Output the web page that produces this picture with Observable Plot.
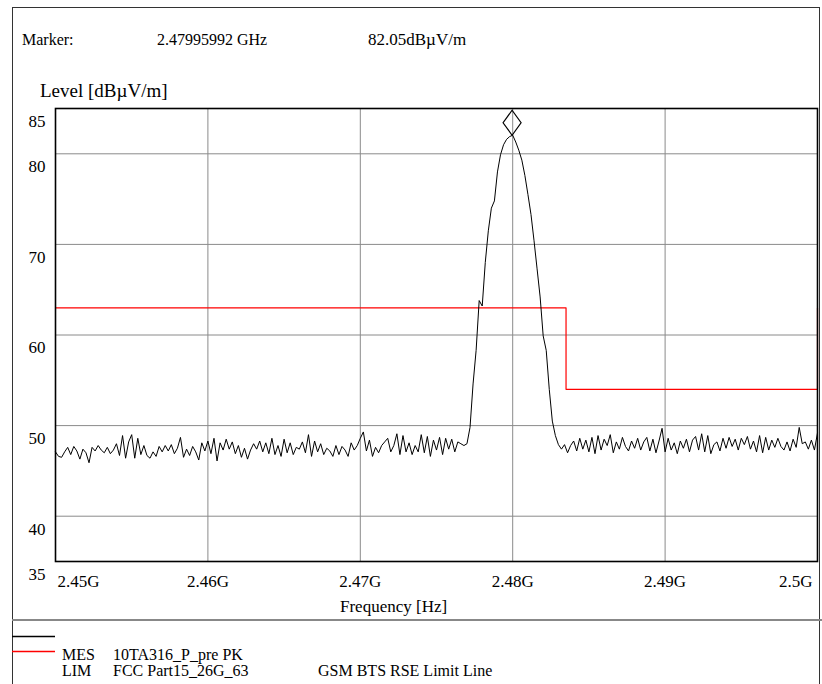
<!DOCTYPE html>
<html>
<head>
<meta charset="utf-8">
<script src="https://cdn.jsdelivr.net/npm/d3@7"></script>
<script src="https://cdn.jsdelivr.net/npm/@observablehq/plot@0.6"></script>
<style>
  html, body { margin: 0; padding: 0; background: #fff; }
  #wrap { position: relative; width: 822px; height: 684px; overflow: hidden; font-family: "Liberation Serif", serif; color: #000; }
  #wrap svg.plot { position: absolute; left: 0; top: 0; }
  .t { position: absolute; white-space: nowrap; line-height: 1; }
  #border { position: absolute; left: 12px; top: 7px; width: 808px; height: 690px; border: 1.5px solid #333; box-sizing: border-box; }
  #sep { position: absolute; left: 12px; top: 619px; width: 810px; height: 2px; background: #888; }
  #legsvg { position: absolute; left: 0; top: 628px; }
</style>
</head>
<body>
<div id="wrap">
  <div id="border"></div>
  <div id="chart"></div>
  <div class="t" style="left:22px; top:32px; font-size:16px;">Marker:</div>
  <div class="t" style="left:157px; top:32px; font-size:16px;">2.47995992 GHz</div>
  <div class="t" style="left:368px; top:31px; font-size:17px;">82.05dBµV/m</div>
  <div class="t" style="left:40px; top:81px; font-size:19px;">Level [dBµV/m]</div>
  <div class="t" style="left:340px; top:598px; font-size:17px;">Frequency [Hz]</div>
  <div id="sep"></div>
  <svg id="legsvg" width="60" height="30">
    <line x1="12" x2="55" y1="8.5" y2="8.5" stroke="#000" stroke-width="1.3"></line>
    <line x1="12" x2="55" y1="23.5" y2="23.5" stroke="#ff0000" stroke-width="1.3"></line>
  </svg>
  <div class="t" style="left:62px; top:647px; font-size:16px;">MES</div>
  <div class="t" style="left:113px; top:647px; font-size:16px;">10TA316_P_pre PK</div>
  <div class="t" style="left:62px; top:663px; font-size:16px;">LIM</div>
  <div class="t" style="left:113px; top:663px; font-size:16px;">FCC Part15_26G_63</div>
  <div class="t" style="left:318px; top:663px; font-size:16px;">GSM BTS RSE Limit Line</div>
</div>
<script>
// Sweep: 2.45 GHz to 2.5 GHz
const sweepStart = 2.45;
const sweepStop = 2.5;

const levels = [
  47.1, 46.6, 46.5, 47.1, 47.6, 46.8, 47.7, 47.2, 46.3, 47.4,
  47.0, 45.9, 47.6, 47.2, 47.8, 47.3, 47.0, 47.6, 46.9, 47.3,
  48.0, 46.7, 48.9, 46.4, 48.2, 49.0, 46.4, 48.6, 46.8, 47.8,
  46.7, 46.4, 47.1, 46.6, 47.7, 47.1, 47.8, 47.2, 47.9, 46.9,
  47.5, 48.7, 46.5, 47.4, 46.7, 47.7, 47.1, 46.2, 48.1, 47.2,
  48.3, 46.9, 48.6, 46.1, 48.1, 47.3, 48.5, 47.4, 48.2, 46.9,
  47.8, 46.5, 47.5, 46.3, 47.3, 48.0, 47.4, 48.3, 47.1, 48.1,
  46.9, 48.6, 46.8, 47.8, 46.6, 48.5, 47.0, 48.1, 46.8, 47.6,
  47.4, 48.2, 47.0, 49.0, 46.6, 48.3, 47.1, 48.0, 46.8, 47.5,
  47.2, 46.6, 47.8, 46.8, 47.7, 47.3, 46.6, 48.1, 47.3, 47.8,
  48.6, 49.3, 47.2, 48.4, 46.6, 47.6, 47.0, 47.8, 48.2, 48.6,
  47.1, 47.8, 49.1, 46.8, 48.9, 47.1, 48.1, 46.8, 47.8, 47.1,
  49.0, 47.0, 48.8, 46.6, 48.4, 47.3, 48.7, 46.8, 48.6, 47.4,
  48.5, 47.1, 48.2, 48.0, 47.8,
  48.0, 49.8, 54.6, 58.3, 63.8, 63.2, 68.0, 71.5, 74.0, 74.8,
  78.0, 79.9, 81.0, 81.6, 81.9, 82.05, 81.3, 80.4, 79.3, 77.6,
  75.5, 73.3, 70.4, 67.3, 64.2, 59.9, 58.3, 54.0, 50.5, 48.9,
  47.9,
  47.4, 47.9, 47.0, 47.8,
  48.3, 47.2, 48.6, 47.4, 48.4, 47.1, 48.7, 46.9, 48.9, 47.3,
  48.5, 47.8, 49.0, 47.0, 48.2, 47.4, 48.7, 47.7, 47.2, 48.3,
  47.5, 48.6, 47.3, 48.2, 48.7, 47.2, 48.5, 47.0, 48.3, 49.7,
  47.1, 48.6, 47.3, 48.1, 46.9, 48.3, 47.5, 48.5, 47.1, 48.4,
  48.8, 47.3, 49.1, 47.1, 48.9, 46.9, 47.9, 48.2, 47.2, 48.6,
  47.5, 48.7, 47.7, 48.5, 47.3, 48.6, 47.9, 48.8, 47.4, 48.3,
  47.1, 48.9, 47.0, 48.7, 47.3, 48.4, 47.6, 48.6, 47.7, 47.3,
  48.2, 47.2, 48.5, 47.6, 49.8, 48.0, 48.2, 47.4, 48.4, 47.3, 49.2
];

// Limit line (FCC Part15_26G_63)
const limitFreqs = [2.45, 2.4835, 2.4835, 2.5, 2.5];
const limitLevels = [63, 63, 54, 54, 63];

// Marker
const markerFreq = 2.47995992;
const markerLevel = 82.05;

// Axis ticks
const yTicks = [35, 40, 50, 60, 70, 80, 85];
const yGrid = [40, 50, 60, 70, 80];
const xTicks = [2.45, 2.46, 2.47, 2.48, 2.49, 2.5];
const xTickLabels = ["2.45G", "2.46G", "2.47G", "2.48G", "2.49G", "2.5G"];
const xGrid = [2.46, 2.47, 2.48, 2.49];

const step = (sweepStop - sweepStart) / (levels.length - 1);
const trace = levels.map((v, i) => ({f: sweepStart + i * step, v}));
const limit = limitFreqs.map((f, i) => ({f, v: limitLevels[i]}));
const xt = xTicks.map((f, i) => ({f, label: xTickLabels[i]}));

const tallDiamond = {
  draw(ctx, size) {
    const r = Math.sqrt(size / Math.PI);
    const w = r * 0.72;
    ctx.moveTo(0, -r);
    ctx.lineTo(w, 0);
    ctx.lineTo(0, r);
    ctx.lineTo(-w, 0);
    ctx.closePath();
  }
};

const chart = Plot.plot({
  width: 822,
  height: 620,
  marginLeft: 55,
  marginRight: 5,
  marginTop: 108,
  marginBottom: 59,
  className: "plot",
  x: {domain: [sweepStart, sweepStop], axis: null},
  y: {domain: [35, 85], axis: null},
  style: {fontFamily: "Liberation Serif", fontSize: "17px", background: "transparent", color: "#000", overflow: "visible"},
  marks: [
    Plot.gridY(yGrid, {stroke: "#8a8a8a", strokeOpacity: 1, strokeWidth: 1}),
    Plot.gridX(xGrid, {stroke: "#8a8a8a", strokeOpacity: 1, strokeWidth: 1}),
    Plot.line(limit, {x: "f", y: "v", stroke: "#ff0000", strokeWidth: 1.2, curve: "linear"}),
    Plot.line(trace, {x: "f", y: "v", stroke: "#000", strokeWidth: 1}),
    Plot.frame({stroke: "#000", strokeWidth: 1.6}),
    Plot.dot([{f: markerFreq, v: markerLevel}], {x: "f", y: "v", r: 12.5, dy: -12.5, symbol: tallDiamond, stroke: "#000", fill: "none", strokeWidth: 1.2}),
    Plot.text(yTicks, {y: d => d, frameAnchor: "left", dx: -10, dy: 13, textAnchor: "end", text: d => String(d), fill: "#000", fontSize: 17}),
    Plot.text(xt.slice(0, 1), {x: "f", text: "label", frameAnchor: "bottom", dy: 25, dx: 2, textAnchor: "start", fill: "#000", fontSize: 17}),
    Plot.text(xt.slice(1, -1), {x: "f", text: "label", frameAnchor: "bottom", dy: 25, textAnchor: "middle", fill: "#000", fontSize: 17}),
    Plot.text(xt.slice(-1), {x: "f", text: "label", frameAnchor: "bottom", dy: 25, dx: -5, textAnchor: "end", fill: "#000", fontSize: 17})
  ]
});
document.getElementById("chart").appendChild(chart);
</script>
</body>
</html>
